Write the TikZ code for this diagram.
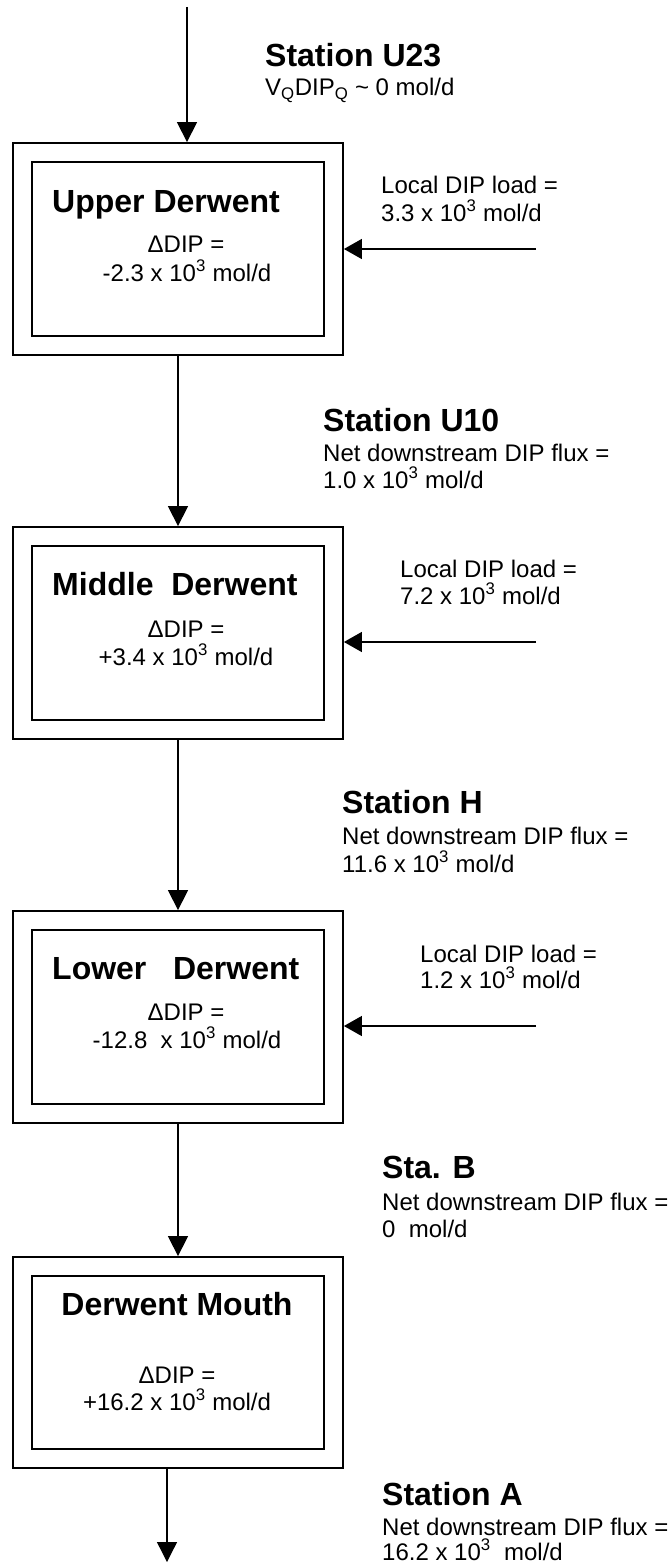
\documentclass[tikz,border=0pt]{standalone}
\usepackage{fontspec}
\setmainfont{Liberation Sans}
\usetikzlibrary{arrows.meta}
\begin{document}
\begin{tikzpicture}[x=1pt,y=-1pt,
  outerbox/.style={draw, line width=1.8pt, minimum width=330pt, minimum height=212pt, inner sep=0pt},
  innerbox/.style={draw, line width=1.8pt, minimum width=292pt, minimum height=174pt, inner sep=0pt},
  flow/.style={line width=1.3pt, -{Triangle[length=20pt,width=20pt]}},
  side/.style={line width=1.3pt, -{Triangle[length=18pt,width=20pt]}},
  lbl/.style={anchor=base west, inner sep=0pt, font=\fontsize{24}{29}\selectfont},
  clbl/.style={anchor=base, inner sep=0pt, font=\fontsize{24}{29}\selectfont},
  ttl/.style={anchor=base west, inner sep=0pt, font=\fontsize{32}{38}\selectfont\bfseries},
  cttl/.style={anchor=base, inner sep=0pt, font=\fontsize{32}{38}\selectfont\bfseries}]
\useasboundingbox (0,0) rectangle (668,1568);

% boxes
\node[outerbox] (b1) at (178,249) {};
\node[innerbox] (i1) at (b1.center) {};
\node[outerbox] (b2) at (178,633) {};
\node[innerbox] (i2) at (b2.center) {};
\node[outerbox] (b3) at (178,1017) {};
\node[innerbox] (i3) at (b3.center) {};
\node[outerbox, minimum height=211pt] (b4) at (178,1362.5) {};
\node[innerbox, minimum height=173pt] (i4) at (b4.center) {};

% flow arrows
\coordinate (src) at (187,7);
\draw[flow] (src) -- (src |- b1.north);
\draw[flow] (b1.south) -- (b2.north);
\draw[flow] (b2.south) -- (b3.north);
\draw[flow] (b3.south) -- (b4.north);
\coordinate (sink) at (167,1562);
\draw[flow] (sink |- b4.south) -- (sink);

% local load arrows
\coordinate (l1) at (536,249);
\coordinate (l2) at (536,642);
\coordinate (l3) at (536,1026);
\draw[side] (l1) -- (l1 -| b1.east);
\draw[side] (l2) -- (l2 -| b2.east);
\draw[side] (l3) -- (l3 -| b3.east);

% station labels
\node[ttl] (s1) at (265,67) {Station U23};
\node[lbl] (s1a) at (265,96) {V\textsubscript{Q}DIP\textsubscript{Q} \textasciitilde{} 0 mol/d};

\node[ttl] (s2) at (323,431) {Station U10};
\node[lbl] (s2a) at (323,461) {Net downstream DIP flux =};
\node[lbl] (s2b) at (323,488) {1.0 x 10\textsuperscript{3} mol/d};

\node[ttl] (s3) at (342,813) {Station H};
\node[lbl] (s3a) at (342,844) {Net downstream DIP flux =};
\node[lbl] (s3b) at (342,872) {11.6 x 10\textsuperscript{3} mol/d};

\node[ttl] (s4) at (382,1178) {Sta. B};
\node[lbl] (s4a) at (382,1210) {Net downstream DIP flux =};
\node[lbl] (s4b) at (382,1237) {0\ \ mol/d};

\node[ttl] (s5) at (382,1505) {Station A};
\node[lbl] (s5a) at (382,1535) {Net downstream DIP flux =};
\node[lbl] (s5b) at (382,1560) {16.2 x 10\textsuperscript{3}\ \ mol/d};

% local loads
\node[lbl] (ld1) at (381,193) {Local DIP load =};
\node[lbl] (ld1b) at (381,221) {3.3 x 10\textsuperscript{3} mol/d};
\node[lbl] (ld2) at (400,577) {Local DIP load =};
\node[lbl] (ld2b) at (400,604) {7.2 x 10\textsuperscript{3} mol/d};
\node[lbl] (ld3) at (420,962) {Local DIP load =};
\node[lbl] (ld3b) at (420,988) {1.2 x 10\textsuperscript{3} mol/d};

% box contents
\node[ttl] (t1) at (52,212) {Upper Derwent};
\node[clbl] (d1) at (186,252) {ΔDIP =};
\node[clbl] (v1) at (187,281) {-2.3 x 10\textsuperscript{3} mol/d};

\node[ttl] (t2) at (52,595) {Middle\ \ Derwent};
\node[clbl] (d2) at (186,637) {ΔDIP =};
\node[clbl] (v2) at (186,665) {+3.4 x 10\textsuperscript{3} mol/d};

\node[ttl] (t3) at (52,979) {Lower\ \ \ Derwent};
\node[clbl] (d3) at (186,1020) {ΔDIP =};
\node[clbl] (v3) at (187,1048) {-12.8\ \ x 10\textsuperscript{3} mol/d};

\node[cttl] (t4) at (177,1315) {Derwent Mouth};
\node[clbl] (d4) at (177,1383) {ΔDIP =};
\node[clbl] (v4) at (177,1410) {+16.2 x 10\textsuperscript{3} mol/d};
\end{tikzpicture}
\end{document}
